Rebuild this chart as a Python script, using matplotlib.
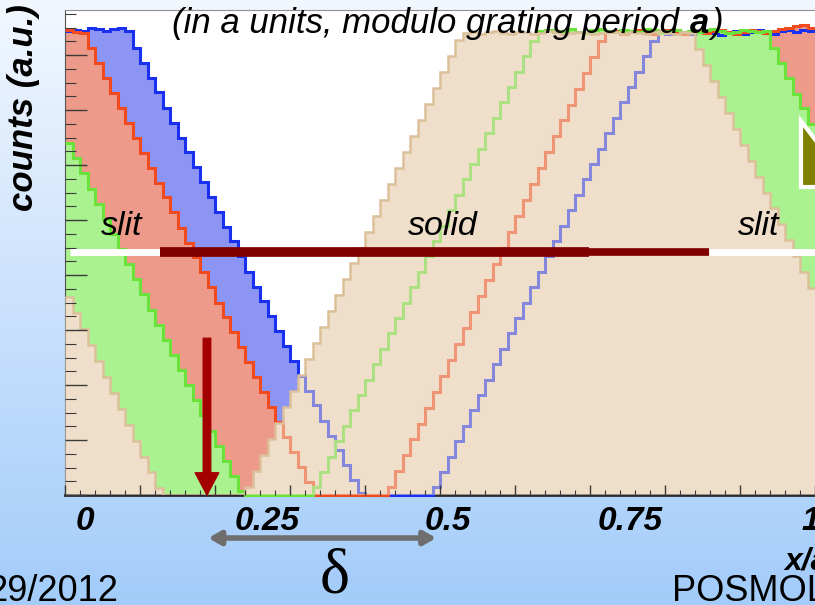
import numpy as np
import matplotlib.pyplot as plt
from matplotlib.patches import Polygon
from matplotlib.ticker import MultipleLocator

plt.rcParams['font.family'] = ['Liberation Sans', 'DejaVu Sans']

# histogram bins (ROOT frame runs 0..1, 100 bins)
edges = np.linspace(0.0, 1.0, 101)

blue = [84.3, 84.6, 84.4, 84.9, 84.7, 84.3, 84.8, 85.0, 84.4,
        81.3, 78.6, 75.9, 73.2, 70.4, 67.7, 65.0, 62.3, 59.6, 56.9,
        54.2, 51.5, 48.8, 46.1, 43.4, 40.6, 37.9, 35.2, 32.5, 29.8,
        27.1, 24.4, 21.7, 19.0, 16.3, 13.5, 10.8, 8.1, 5.4, 2.7, 0.4,
        0, 0, 0, 0, 0, 0, 0, 0, 0,
        1.4, 4.2, 7.0, 9.8, 12.6, 15.4, 18.2, 21.0, 23.8, 26.6,
        29.4, 32.2, 35.0, 37.8, 40.6, 43.4, 46.2, 49.0, 51.8, 54.6,
        57.4, 60.2, 63.0, 65.8, 68.6, 71.4, 74.2, 77.0, 79.8, 82.6,
        84.2, 83.9, 84.5, 84.1, 83.8, 84.3, 84.6, 84.0, 83.7, 84.2,
        84.4, 83.9, 84.1, 84.5, 84.0, 83.8, 84.3, 84.6, 84.2, 84.5, 84.4]

red = [84.5, 84.2, 84.0,
       81.3, 78.6, 75.8, 73.1, 70.4, 67.7, 65.0, 62.2, 59.5, 56.8,
       54.1, 51.4, 48.6, 45.9, 43.2, 40.5, 37.8, 35.0, 32.3, 29.6,
       26.9, 24.2, 21.4, 18.7, 16.0, 13.3, 10.6, 7.8, 5.1, 2.4,
       0, 0, 0, 0, 0, 0, 0, 0, 0, 0,
       1.4, 4.3, 7.2, 10.1, 13.0, 15.9, 18.8, 21.7, 24.6, 27.5,
       30.4, 33.3, 36.2, 39.1, 42.0, 44.9, 47.8, 50.7, 53.6, 56.5,
       59.4, 62.3, 65.2, 68.1, 71.0, 73.9, 76.8, 79.7, 82.6,
       84.1, 84.4, 83.9, 84.2, 84.6, 84.0, 83.8, 84.3, 84.5, 84.1,
       83.9, 84.2, 84.4, 84.0, 84.3, 84.6, 84.1, 83.8, 84.2, 84.5,
       84.3, 84.0, 84.4, 84.7, 84.9, 85.2, 85.4, 85.0]

green = [64.0, 61.2, 58.5, 55.7, 53.0, 50.2, 47.5, 44.7, 42.0, 39.2,
         36.5, 33.7, 31.0, 28.2, 25.5, 22.7, 20.0, 17.2, 14.5, 11.7,
         9.0, 6.2, 3.5, 0.8,
         0, 0, 0, 0, 0, 0, 0, 0, 0,
         1.4, 4.2, 7.0, 9.8, 12.6, 15.4, 18.2, 21.0, 23.8, 26.6,
         29.4, 32.2, 35.0, 37.8, 40.6, 43.4, 46.2, 49.0, 51.8, 54.6,
         57.4, 60.2, 63.0, 65.8, 68.6, 71.4, 74.2, 77.0, 79.8, 82.6,
         84.3, 84.6, 84.1, 84.4, 84.8, 84.2, 84.0, 84.5, 84.7, 84.3,
         84.1, 84.6, 84.4, 84.2, 84.7, 84.5, 84.0, 84.3, 84.6, 84.2,
         84.4, 84.1, 84.5, 84.8, 84.3, 84.0, 84.2, 84.6, 84.4, 84.1, 84.3,
         81.3, 78.5, 75.8, 73.0, 70.3, 67.5]

tan = [36.0, 33.1, 30.2, 27.3, 24.4, 21.5, 18.6, 15.7, 12.8, 9.9,
       7.0, 4.1, 1.2,
       0, 0, 0, 0, 0, 0, 0, 0, 0, 0, 0,
       1.5, 4.4, 7.3, 10.2, 13.1, 16.0, 18.9, 21.8, 24.7, 27.6,
       30.5, 33.4, 36.3, 39.2, 42.1, 45.0, 47.9, 50.8, 53.7, 56.6,
       59.5, 62.4, 65.3, 68.2, 71.1, 74.0, 76.9, 79.8, 82.7,
       84.0, 84.2, 83.9, 84.1, 84.3, 84.0, 83.8, 84.2, 84.1, 83.9,
       84.0, 84.3, 84.1, 83.8, 84.0, 84.2, 84.1, 83.9, 84.0, 84.2,
       84.1, 83.9, 84.2, 84.0, 83.8, 84.1, 84.3, 84.0, 83.9, 84.1, 84.0,
       81.1, 78.2, 75.3, 72.4, 69.5, 66.6, 63.7, 60.8, 57.9, 55.0,
       52.1, 49.2, 46.3, 43.4, 40.5, 37.6]

# x/a labels written under the frame
label_vals = [0, 0.25, 0.5, 0.75, 1]
label_txt = ["0", "0.25", "0.5", "0.75", "1"]
zones = ["slit", "solid", "slit"]
zone_x = [0.076, 0.504, 0.925]


def a_to_frame(v):
    return 0.027 + 0.968 * v


fig = plt.figure(figsize=(8.15, 6.05), dpi=100)

# slide background
bg = fig.add_axes([0, 0, 1, 1], zorder=-10)
g = np.linspace(0, 1, 256)[:, None, None]
top = np.array([0.95, 0.97, 1.0])
bot = np.array([0.64, 0.80, 0.98])
bg.imshow(top + (bot - top) * g, aspect='auto', extent=[0, 1, 0, 1])
bg.axis('off')

ax = fig.add_axes([65 / 815, 110 / 605, 750 / 815, 485 / 605])
ax.set_facecolor('white')
ax.set_xlim(0, 1)
ax.set_ylim(0, 485 / 5.5)

fills = [(blue, '#8c95f4'), (red, '#ee9a8a'), (green, '#a9f28f'), (tan, '#efdfca')]
for i, (vals, col) in enumerate(fills):
    ax.stairs(vals, edges, fill=True, color=col, lw=0, zorder=1 + 0.1 * i)

outlines = [(blue, '#1a30f0'), (red, '#f04a1e'), (green, '#6be23a')]
for i, (vals, col) in enumerate(outlines):
    ax.stairs(vals, edges, color=col, lw=2.2, baseline=None,
              zorder=3 + 0.1 * i, clip_on=False)
# tan drawn again, half transparent, so outlines under it look washed out
ax.stairs(tan, edges, fill=True, color='#efdfca', alpha=0.5, lw=0, zorder=3.5)
ax.stairs(tan, edges, color='#dcc09a', lw=1.8, baseline=None, zorder=3.6)

ax.xaxis.set_major_locator(MultipleLocator(0.1))
ax.xaxis.set_minor_locator(MultipleLocator(0.02))
ax.yaxis.set_major_locator(MultipleLocator(10))
ax.yaxis.set_minor_locator(MultipleLocator(2.5))
ax.tick_params(which='both', direction='in', colors='#3a3a3a',
               labelbottom=False, labelleft=False, top=False, right=False)
ax.tick_params(axis='x', which='major', length=7, width=1)
ax.tick_params(axis='x', which='minor', length=3.5, width=0.8)
ax.tick_params(axis='y', which='major', length=16, width=1)
ax.tick_params(axis='y', which='minor', length=8, width=0.8)
ax.xaxis.set_zorder(4)
ax.yaxis.set_zorder(4)
ax.spines['right'].set_visible(False)
ax.spines['top'].set_color('#909090')
ax.spines['left'].set_color('#555555')
ax.spines['bottom'].set_color('#2a2a2a')
ax.spines['bottom'].set_linewidth(2)

# slit / solid bar
ax.plot([0.0067, 0.127], [44.1, 44.1], color='white', lw=5, solid_capstyle='butt', zorder=6)
ax.plot([0.859, 1.0], [44.1, 44.1], color='white', lw=5, solid_capstyle='butt', zorder=6)
ax.plot([0.127, 0.859], [44.1, 44.1], color='#800000', lw=5.5, solid_capstyle='butt', zorder=6)
ax.plot([0.127, 0.699], [44.1, 44.1], color='#800000', lw=7, solid_capstyle='butt', zorder=6)
for x, s in zip(zone_x, zones):
    ax.text(x, 47.3, s, ha='center', va='baseline', fontsize=24.5,
            style='italic', zorder=7)

# header
t1 = ax.text(0.1427, 84.0, "(in a units, modulo grating period", fontsize=25,
             style='italic', va='baseline', zorder=8)
t2 = ax.annotate("a", xy=(1, 84.0), xycoords=(t1, 'data'), xytext=(8, 0),
                 textcoords='offset points', fontsize=25, style='italic',
                 weight='bold', va='baseline', zorder=8)
ax.annotate(")", xy=(1, 84.0), xycoords=(t2, 'data'), xytext=(1, 0),
            textcoords='offset points', fontsize=25, style='italic',
            va='baseline', zorder=8)

# red arrow
ax.annotate('', xy=(0.1893, 0), xytext=(0.1893, 28.5),
            arrowprops=dict(arrowstyle='simple,head_length=0.8,head_width=0.85,tail_width=0.27',
                            color='#a30000', mutation_scale=20, shrinkA=0, shrinkB=0),
            zorder=8)

xt = ax.get_xaxis_transform()
for v, s in zip(label_vals, label_txt):
    ax.text(a_to_frame(v), -0.072, s, transform=xt, ha='center', va='baseline',
            fontsize=24, style='italic', weight='bold', clip_on=False)

ax.annotate('', xy=(0.495, -0.0887), xytext=(0.191, -0.0887), xycoords=xt,
            arrowprops=dict(arrowstyle='<|-|>,head_length=0.7,head_width=0.4',
                            color='#6e6e6e', lw=4, shrinkA=0, shrinkB=0),
            annotation_clip=False)
ax.text(0.36, -0.171, "δ", transform=xt, ha='center', va='center',
        fontsize=46, family=['Liberation Serif', 'DejaVu Serif'], clip_on=False)

# y title, rotated, left of the frame
fig.text(24 / 815, 1 - 108 / 605, "counts (a.u.)", rotation=90,
         fontsize=25, style='italic', weight='bold', ha='center', va='center')

fig.text(784 / 815, 1 - 569 / 605, "x/a", fontsize=23, style='italic',
         weight='bold', va='baseline')
fig.text(118 / 815, 1 - 601 / 605, "29/2012", fontsize=26, ha='right', va='baseline')
fig.text(672 / 815, 1 - 601 / 605, "POSMOL 2012", fontsize=26, va='baseline')

tri = Polygon([(801 / 815, 484 / 605), (801 / 815, 418 / 605), (851 / 815, 418 / 605)],
              closed=True, facecolor='#808000', edgecolor='white', lw=3,
              transform=fig.transFigure, zorder=20)
fig.add_artist(tri)

fig.savefig('out.png', dpi=100)
